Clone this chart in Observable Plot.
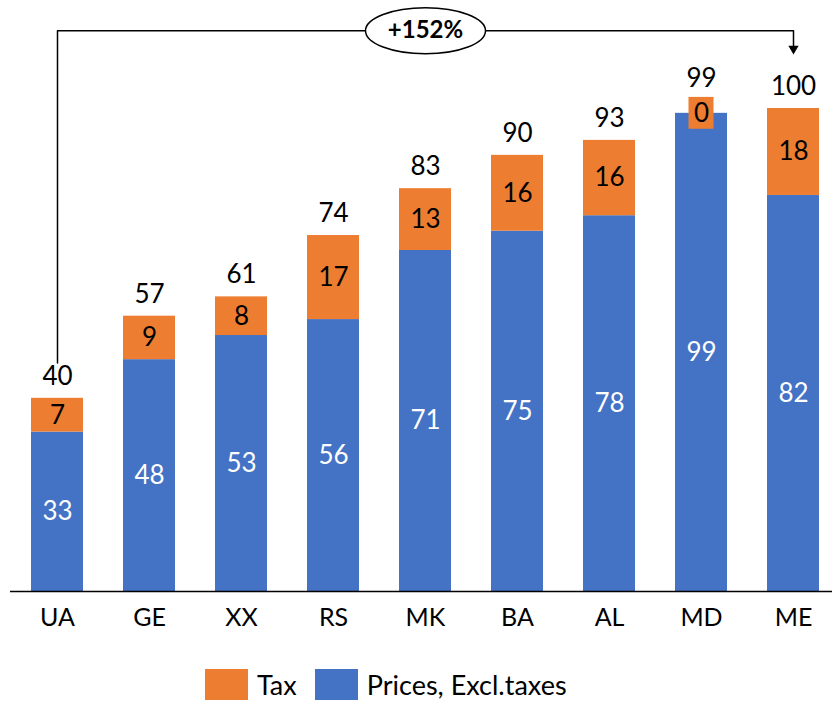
<!DOCTYPE html>
<html>
<head>
<meta charset="utf-8">
<script src="https://cdn.jsdelivr.net/npm/d3@7"></script>
<script src="https://cdn.jsdelivr.net/npm/@observablehq/plot@0.6"></script>
<style>
  body { margin: 0; background: #fff; font-family: Lato, sans-serif; }
  #legend { display: flex; align-items: center; padding-left: 205px; padding-top: 18px; font-size: 27px; color: #000; }
  #legend .sw { display: inline-block; width: 43px; height: 31px; }
  #legend .lab { margin-left: 9px; margin-right: 18px; }
</style>
</head>
<body>
<div id="chart"></div>
<div id="legend"></div>
<script>
// Countries, in display order
const categories = ["UA", "GE", "XX", "RS", "MK", "BA", "AL", "MD", "ME"];
// Price excluding taxes (blue, bottom segment)
const prices = [33, 48, 53, 56.3, 70.6, 74.6, 77.8, 99, 82];
// Tax component (orange, top segment)
const taxes = [7, 9, 8, 17.4, 12.8, 15.7, 15.6, 0, 18];
// Series names and colours
const seriesNames = ["Tax", "Prices, Excl.taxes"];
const seriesColors = ["#ED7D31", "#4472C4"];
// Change between the first and the last country
const changeLabel = "+152%";

const fmt = d3.format(".0f");

// Long-form rows: prices first so they stack at the bottom
const rows = [];
categories.forEach((c, i) => {
  rows.push({cat: c, series: seriesNames[1], value: prices[i]});
  rows.push({cat: c, series: seriesNames[0], value: taxes[i]});
});
const totals = categories.map((c, i) => ({cat: c, total: prices[i] + taxes[i], tax: taxes[i]}));

// Bracket from the first bar to the last one
const first = totals[0], last = totals[totals.length - 1];
const bracketLevel = 116.1;
const bracket = [
  {cat: first.cat, y: first.total + 7.3},
  {cat: first.cat, y: bracketLevel},
  {cat: last.cat, y: bracketLevel},
  {cat: last.cat, y: 112}
];
const midCat = categories[Math.floor(categories.length / 2)];

// Ellipse symbol for the change badge
const ellipse = {
  draw(ctx) {
    const rx = 60, ry = 23, k = 0.5523;
    ctx.moveTo(rx, 0);
    ctx.bezierCurveTo(rx, ry * k, rx * k, ry, 0, ry);
    ctx.bezierCurveTo(-rx * k, ry, -rx, ry * k, -rx, 0);
    ctx.bezierCurveTo(-rx, -ry * k, -rx * k, -ry, 0, -ry);
    ctx.bezierCurveTo(rx * k, -ry, rx, -ry * k, rx, 0);
    ctx.closePath();
  }
};

const zeroTax = rows.filter(d => d.series === seriesNames[0] && d.value === 0)
  .map(d => ({cat: d.cat, mid: totals.find(t => t.cat === d.cat).total}));

const isPrice = d => d.series === seriesNames[1];
const isTax = d => d.series === seriesNames[0];

const chart = Plot.plot({
  width: 832,
  height: 650,
  marginTop: 108,
  marginBottom: 59,
  marginLeft: 10,
  marginRight: 0,
  style: {fontFamily: "Lato, sans-serif", background: "white", overflow: "visible"},
  x: {domain: categories, range: [11.5, 838.8], paddingInner: 0.437, paddingOuter: 0.2, axis: null},
  y: {domain: [0, 100], axis: null},
  color: {domain: seriesNames, range: seriesColors},
  marks: [
    Plot.barY(rows, {x: "cat", y: "value", fill: "series"}),
    // orange badge behind a zero tax label
    Plot.barY(zeroTax, {x: "cat", y1: d => d.mid - 3.3, y2: d => d.mid + 3.3, fill: seriesColors[0], insetLeft: 13.5, insetRight: 13.5}),
    Plot.ruleY([0], {stroke: "#000", strokeWidth: 1.5}),
    Plot.axisX({tickSize: 0, tickPadding: 17, fontSize: 25, color: "#000", label: null}),
    // segment labels (stacked first, then split by series for colour)
    Plot.text(rows, Plot.filter(isPrice, Plot.stackY({x: "cat", y: "value", z: "series",
      text: d => fmt(d.value), fill: "white", fontSize: 26}))),
    Plot.text(rows, Plot.filter(isTax, Plot.stackY({x: "cat", y: "value", z: "series",
      text: d => fmt(d.value), fill: "black", fontSize: 26}))),
    // totals above the bars
    Plot.text(totals.filter(d => d.tax > 0), {x: "cat", y: "total", text: d => fmt(d.total), dy: -22, fontSize: 26, fill: "black"}),
    Plot.text(totals.filter(d => d.tax === 0), {x: "cat", y: "total", text: d => fmt(d.total), dy: -35, fontSize: 26, fill: "black"}),
    // bracket with arrow
    Plot.line(bracket, {x: "cat", y: "y", stroke: "#000", strokeWidth: 1.5}),
    Plot.dot([last], {x: "cat", y: () => 112.4, symbol: "triangle2", rotate: 180, r: 4.9, fill: "#000", stroke: null}),
    Plot.dot([midCat], {x: d => d, y: () => bracketLevel, symbol: ellipse, r: 1, fill: "white", stroke: "#000", strokeWidth: 1.5}),
    Plot.text([midCat], {x: d => d, y: () => bracketLevel, text: () => changeLabel, fontWeight: "bold", fontSize: 24, fill: "#000"})
  ]
});
document.getElementById("chart").append(chart);

// legend
const legend = document.getElementById("legend");
seriesNames.forEach((name, i) => {
  const sw = document.createElement("span");
  sw.className = "sw";
  sw.style.background = seriesColors[i];
  const lab = document.createElement("span");
  lab.className = "lab";
  lab.textContent = name;
  legend.append(sw, lab);
});
</script>
</body>
</html>
